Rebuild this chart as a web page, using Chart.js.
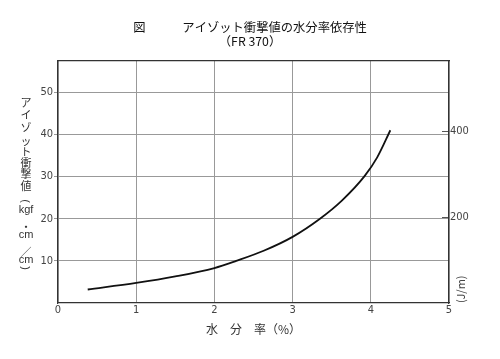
<!DOCTYPE html>
<html>
<head>
<meta charset="utf-8">
<script src="https://cdn.jsdelivr.net/npm/chart.js@4"></script>
<style>
  body { margin: 0; background: #fff; }
  #wrap { position: relative; width: 500px; height: 359px; }
  .v {
    position: absolute; left: 14px; width: 24px; height: 12px; line-height: 12px;
    text-align: center; font: 11px "Noto Sans CJK JP", sans-serif; color: #333;
  }
  .v.lat { font-family: "Liberation Sans Narrow", "Liberation Sans", sans-serif; font-size: 11px; }
  .v.rot { transform: rotate(90deg); font-family: "Liberation Sans", sans-serif; }
  .jm {
    position: absolute; left: 452px; top: 303px;
    transform: rotate(-90deg); transform-origin: left top;
    font: 11px "Noto Sans CJK JP", sans-serif; color: #444; white-space: nowrap;
  }
</style>
</head>
<body>
<div id="wrap">
  <canvas id="c" width="500" height="359"></canvas>
  <div class="v" style="top:94px">ア</div>
  <div class="v" style="top:106px">イ</div>
  <div class="v" style="top:119px">ゾ</div>
  <div class="v" style="top:132px">ッ</div>
  <div class="v" style="top:143px">ト</div>
  <div class="v" style="top:154px">衝</div>
  <div class="v" style="top:165px">撃</div>
  <div class="v" style="top:177px">値</div>
  <div class="v rot" style="top:195px">(</div>
  <div class="v lat" style="top:203px">kgf</div>
  <div class="v" style="top:218px">・</div>
  <div class="v lat" style="top:228px">cm</div>
  <div class="v" style="top:243px">／</div>
  <div class="v lat" style="top:253px">cm</div>
  <div class="v rot" style="top:262px">)</div>
  <div class="jm">(J/m)</div>
</div>
<script>
// 水分率 (%) と アイゾット衝撃値 (kgf·cm/cm)
const moisture = [0.38, 1.0, 1.5, 2.0, 2.28, 2.63, 3.0, 3.35, 3.63, 3.92, 4.08, 4.25];
const izod = [3.2, 4.75, 6.3, 8.3, 10.0, 12.4, 15.7, 20.0, 24.3, 30.1, 34.5, 41.0];

const xTicks = [0, 1, 2, 3, 4, 5];
const yTicks = [10, 20, 30, 40, 50];
const jTicks = [200, 400];   // J/m
const KGF = 9.80665;         // 1 kgf·cm/cm = 9.80665 J/m
const yMax = 57.6;

const tickFont = { family: "'Liberation Sans Narrow', 'DejaVu Sans Condensed', sans-serif", size: 11 };

new Chart(document.getElementById('c'), {
  type: 'line',
  data: {
    datasets: [{
      data: moisture.map((x, i) => ({ x: x, y: izod[i] })),
      borderColor: '#111',
      borderWidth: 1.8,
      pointRadius: 0,
      cubicInterpolationMode: 'monotone',
      fill: false
    }]
  },
  options: {
    responsive: false,
    animation: false,
    layout: { padding: 0 },
    plugins: {
      legend: { display: false },
      tooltip: { enabled: false },
      title: {
        display: true,
        text: ['図　　　アイゾット衝撃値の水分率依存性', '（FR 370）'],
        color: '#111',
        font: { family: "'Noto Sans CJK JP', sans-serif", size: 12.3, weight: 'normal', lineHeight: 1.15 },
        padding: { top: 20, bottom: 12 }
      }
    },
    scales: {
      x: {
        type: 'linear', min: 0, max: 5,
        afterBuildTicks: s => { s.ticks = xTicks.map(v => ({ value: v })); },
        afterFit: s => { s.height = 56; },
        ticks: { color: '#444', font: tickFont, padding: 1 },
        grid: { color: '#999', drawTicks: false },
        border: { color: '#333', width: 1.2 },
        title: {
          display: true, text: '水　分　率（%）', color: '#333',
          font: { family: "'Noto Sans CJK JP', sans-serif", size: 12 },
          padding: { top: 0, bottom: 22 }
        }
      },
      xTop: {
        type: 'linear', position: 'top', min: 0, max: 5,
        afterFit: s => { s.height = 0; },
        ticks: { display: false },
        grid: { drawOnChartArea: false, drawTicks: false },
        border: { color: '#333', width: 1.2 }
      },
      y: {
        type: 'linear', min: 0, max: yMax,
        afterBuildTicks: s => { s.ticks = yTicks.map(v => ({ value: v })); },
        afterFit: s => { s.width = 58; },
        ticks: { color: '#444', font: tickFont, padding: 1 },
        grid: { color: '#999', tickLength: 4 },
        border: { color: '#333', width: 1.2 }
      },
      y2: {
        type: 'linear', position: 'right', min: 0, max: yMax * KGF,
        afterBuildTicks: s => { s.ticks = jTicks.map(v => ({ value: v })); },
        afterFit: s => { s.width = 51; },
        ticks: { color: '#444', font: tickFont, padding: 8 },
        grid: { drawOnChartArea: false, tickLength: -7, color: '#555' },
        border: { color: '#333', width: 1.2 }
      }
    }
  }
});
</script>
</body>
</html>
